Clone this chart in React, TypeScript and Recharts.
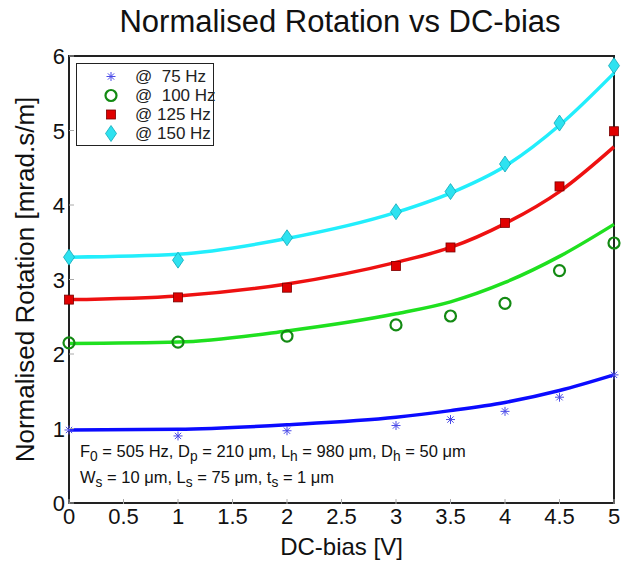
import { ComposedChart, Line, Scatter, XAxis, YAxis, ReferenceArea } from "recharts"

// DC-bias in volts
const biasV = [0, 1, 2, 3, 3.5, 4, 4.5, 5]

// measured points (markers)
const meas75 = [0.98, 0.9, 0.97, 1.04, 1.12, 1.23, 1.42, 1.72]
const meas100 = [2.15, 2.16, 2.24, 2.39, 2.51, 2.68, 3.12, 3.49]
const meas125 = [2.73, 2.76, 2.89, 3.18, 3.43, 3.76, 4.25, 4.99]
const meas150 = [3.3, 3.26, 3.56, 3.91, 4.18, 4.55, 5.1, 5.87]

// model curves (lines)
const fit75 = [0.98, 0.99, 1.05, 1.15, 1.24, 1.35, 1.51, 1.72]
const fit100 = [2.14, 2.16, 2.31, 2.54, 2.7, 2.96, 3.31, 3.74]
const fit125 = [2.73, 2.78, 2.94, 3.23, 3.43, 3.75, 4.18, 4.78]
const fit150 = [3.3, 3.34, 3.55, 3.9, 4.16, 4.52, 5.07, 5.77]

const xTicks = [0, 0.5, 1, 1.5, 2, 2.5, 3, 3.5, 4, 4.5, 5]
const yTicks = [0, 1, 2, 3, 4, 5, 6]

const legendLabels = ["@  75 Hz", "@  100 Hz", "@ 125 Hz", "@ 150 Hz"]

const data = biasV.map((x, i) => ({
  x,
  m75: meas75[i],
  m100: meas100[i],
  m125: meas125[i],
  m150: meas150[i],
  f75: fit75[i],
  f100: fit100[i],
  f125: fit125[i],
  f150: fit150[i],
}))

const font = "'Liberation Sans', Arial, sans-serif"

const Star = ({ cx, cy }: any) => {
  const r = 4.5
  return (
    <g stroke="#4a4ae8" strokeWidth={1}>
      <line x1={cx - r} y1={cy} x2={cx + r} y2={cy} />
      <line x1={cx} y1={cy - r} x2={cx} y2={cy + r} />
      <line x1={cx - r * 0.7} y1={cy - r * 0.7} x2={cx + r * 0.7} y2={cy + r * 0.7} />
      <line x1={cx - r * 0.7} y1={cy + r * 0.7} x2={cx + r * 0.7} y2={cy - r * 0.7} />
    </g>
  )
}

const Ring = ({ cx, cy }: any) => (
  <circle cx={cx} cy={cy} r={5.5} fill="none" stroke="#138a13" strokeWidth={2.2} />
)

const Square = ({ cx, cy }: any) => (
  <rect x={cx - 4.5} y={cy - 4.5} width={9} height={9} fill="#e00000" stroke="#7a0000" strokeWidth={0.8} />
)

const Diamond = ({ cx, cy }: any) => (
  <path
    d={`M${cx},${cy - 8} L${cx + 5.5},${cy} L${cx},${cy + 8} L${cx - 5.5},${cy} Z`}
    fill="#2ee2f0"
    stroke="#10a8b8"
    strokeWidth={0.8}
  />
)

const markers = [Star, Ring, Square, Diamond]

const XTick = ({ x, y, payload }: any) => (
  <g>
    <line x1={x} x2={x} y1={y - 3} y2={y - 8} stroke="#aaa" strokeWidth={1} />
    <text x={x} y={y + 17} textAnchor="middle" fontSize={22} fontFamily={font} fill="#111">
      {payload.value}
    </text>
  </g>
)

const YTick = ({ x, y, payload }: any) => (
  <g>
    <line x1={x + 4} x2={x + 9} y1={y} y2={y} stroke="#aaa" strokeWidth={1} />
    <text x={x} y={y + 8} textAnchor="end" fontSize={22} fontFamily={font} fill="#111">
      {payload.value}
    </text>
  </g>
)

const YLabel = ({ viewBox }: any) => {
  const cy = viewBox.y + viewBox.height / 2
  return (
    <text
      x={25}
      y={cy}
      transform={`rotate(-90, 25, ${cy})`}
      textAnchor="middle"
      dominantBaseline="central"
      fontSize={26}
      fontFamily={font}
      fill="#111"
    >
      Normalised Rotation [mrad.s/m]
    </text>
  )
}

export default function App() {
  return (
    <div style={{ position: "absolute", left: 0, top: 0, width: 622, height: 562, background: "#fff", fontFamily: font }}>
      <div style={{ position: "absolute", left: 40, top: 4, width: 600, textAlign: "center", fontSize: 31, color: "#111" }}>
        Normalised Rotation vs DC-bias
      </div>
      <ComposedChart width={622} height={562} data={data} margin={{ top: 56, right: 8, bottom: 0, left: 0 }}>
        <XAxis
          dataKey="x"
          type="number"
          domain={[0, 5]}
          ticks={xTicks}
          height={59}
          tickSize={0}
          tickMargin={4}
          tick={<XTick />}
          axisLine={{ stroke: "#222", strokeWidth: 2 }}
          label={{ value: "DC-bias [V]", position: "insideBottom", offset: 7, fontSize: 24, fill: "#111", fontFamily: font }}
        />
        <YAxis
          type="number"
          domain={[0, 6]}
          ticks={yTicks}
          width={69}
          tickSize={0}
          tickMargin={4}
          tick={<YTick />}
          axisLine={{ stroke: "#222", strokeWidth: 2 }}
          label={<YLabel />}
        />
        <ReferenceArea x1={0} x2={5} y1={0} y2={6} fill="none" stroke="#222" strokeWidth={2} ifOverflow="visible" />
        <Line type="monotone" dataKey="f75" stroke="#0b0bff" strokeWidth={3.5} dot={false} isAnimationActive={false} />
        <Line type="monotone" dataKey="f100" stroke="#1fe01f" strokeWidth={3.5} dot={false} isAnimationActive={false} />
        <Line type="monotone" dataKey="f125" stroke="#ee1111" strokeWidth={3.5} dot={false} isAnimationActive={false} />
        <Line type="monotone" dataKey="f150" stroke="#22eefc" strokeWidth={3.5} dot={false} isAnimationActive={false} />
        <Scatter dataKey="m75" shape={<Star />} isAnimationActive={false} />
        <Scatter dataKey="m100" shape={<Ring />} isAnimationActive={false} />
        <Scatter dataKey="m125" shape={<Square />} isAnimationActive={false} />
        <Scatter dataKey="m150" shape={<Diamond />} isAnimationActive={false} />
      </ComposedChart>
      <div
        style={{
          position: "absolute",
          left: 76,
          top: 63,
          width: 136,
          height: 81,
          border: "1.5px solid #222",
          background: "#fff",
          fontSize: 17,
          color: "#222",
        }}
      >
        {legendLabels.map((lab, i) => {
          const M = markers[i]
          return (
            <div key={lab} style={{ position: "absolute", left: 0, top: 3 + i * 19, height: 19, display: "flex", alignItems: "center" }}>
              <svg width={20} height={19} style={{ marginLeft: 24 }}>
                <M cx={10} cy={9.5} />
              </svg>
              <span style={{ marginLeft: 14, whiteSpace: "pre" }}>{lab}</span>
            </div>
          )
        })}
      </div>
      <div style={{ position: "absolute", left: 80, top: 441, fontSize: 16.5, color: "#111", lineHeight: "21px", whiteSpace: "pre" }}>
        <div>
          F<sub>0</sub> = 505 Hz, D<sub>p</sub> = 210 μm, L<sub>h</sub> = 980 μm, D<sub>h</sub> = 50 μm
        </div>
        <div>
          W<sub>s</sub> = 10 μm, L<sub>s</sub> = 75 μm, t<sub>s</sub> = 1 μm
        </div>
      </div>
    </div>
  )
}
